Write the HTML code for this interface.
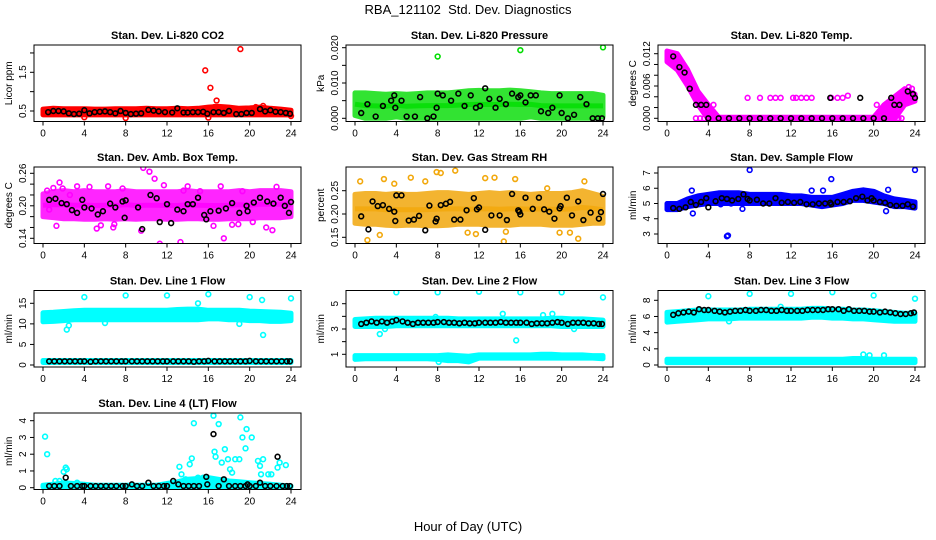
<!DOCTYPE html>
<html><head><meta charset="utf-8">
<style>
html,body{margin:0;padding:0;background:#fff;}
svg{display:block;font-family:"Liberation Sans",Arial,sans-serif;}
</style></head>
<body>
<svg id="chart" width="936" height="540" viewBox="0 0 936 540" xmlns="http://www.w3.org/2000/svg">
<text x="468" y="14" text-anchor="middle" font-size="13">RBA_121102&#160; Std. Dev. Diagnostics</text>
<text x="468" y="531" text-anchor="middle" font-size="13">Hour of Day (UTC)</text>
</svg>
<script>
// shared categories
const bandHours = [0,1,2,3,4,5,6,7,8,9,10,11,12,13,14,15,16,17,18,19,20,21,22,23,24];
const xTicks = [0,4,8,12,16,20,24];

// P1 CO2
const co2Lo = [0.4,0.4,0.4,0.4,0.4,0.4,0.4,0.4,0.4,0.4,0.4,0.4,0.4,0.4,0.4,0.4,0.4,0.4,0.4,0.4,0.4,0.4,0.4,0.4,0.4];
const co2Hi = [0.55,0.57,0.56,0.56,0.56,0.55,0.55,0.56,0.56,0.56,0.57,0.56,0.56,0.57,0.56,0.57,0.6,0.62,0.6,0.57,0.58,0.6,0.57,0.55,0.52];
const co2BlackH = [0.5,1,1.5,2,2.5,3,3.5,4,4.5,5,5.5,6,6.5,7,7.5,8,8.5,9,9.5,10.2,10.7,11.2,11.8,12.5,13,13.6,14,14.5,15,15.5,15.9,16.5,17,17.5,18,18.7,19.2,19.7,20.2,21,21.5,22,22.5,23,23.5,23.9];
const co2BlackV = [0.47,0.5,0.5,0.49,0.44,0.42,0.43,0.52,0.44,0.47,0.48,0.49,0.47,0.44,0.5,0.45,0.42,0.43,0.44,0.53,0.51,0.49,0.47,0.46,0.57,0.46,0.46,0.47,0.47,0.48,0.43,0.47,0.47,0.45,0.5,0.42,0.42,0.45,0.45,0.55,0.49,0.52,0.48,0.47,0.45,0.43];
const co2OutH = [15.7,16.2,16.8,19.1,21.3,20.6,4,8,16,24,16.6];
const co2OutV = [1.55,1.1,0.77,2.1,0.63,0.6,0.34,0.32,0.33,0.37,0.6];

// P2 Pressure
const presLo = [0.0008,0,0,0,0.0004,0,0,0,0,0,0,0,0,0,0,0,0,0.0004,0,0,0,0,0,0,0.0005];
const presHi = [0.0072,0.0072,0.007,0.0068,0.007,0.0068,0.007,0.0072,0.0072,0.0072,0.0075,0.0078,0.0079,0.0078,0.0078,0.008,0.0078,0.0075,0.0072,0.007,0.007,0.007,0.007,0.007,0.0065];
const presBlackH = [0.6,1.2,2,2.7,3.5,3.8,3.9,4.5,5,5.8,6.3,7,7.6,7.9,8,8.5,9.3,10,10.6,11.2,11.7,12.1,12.6,13,13.6,14,14.6,15.2,15.8,16,16.5,17,17.5,18,18.7,19.1,19.8,20,20.6,21.2,21.8,22.4,23,23.5,23.9];
const presBlackV = [0.0015,0.004,0.0005,0.0035,0.005,0.0065,0.003,0.005,0.0005,0.0005,0.006,0,0.0005,0.003,0.007,0.0065,0.005,0.007,0.0035,0.0065,0.003,0.0035,0.0085,0.0055,0.003,0.0055,0.004,0.007,0.006,0.0065,0.0045,0.0065,0.0065,0.002,0.0015,0.003,0.0065,0.0015,0,0.001,0.006,0.004,0,0,0];
const presOutH = [8,16,24];
const presOutV = [0.0175,0.0193,0.0201];

// P3 Li-820 Temp
const tempLo = [0.0105,0.009,0.006,0.0025,-0.0002,-0.0002,-0.0002,-0.0002,-0.0002,-0.0002,-0.0002,-0.0002,-0.0002,-0.0002,-0.0002,-0.0002,-0.0002,-0.0002,-0.0002,-0.0002,-0.0002,-0.0002,-0.0002,0.0025,0.0032];
const tempHi = [0.0125,0.012,0.009,0.005,0.0025,0.0002,0.0002,0.0002,0.0002,0.0002,0.0002,0.0002,0.0002,0.0002,0.0002,0.0002,0.0002,0.0002,0.0002,0.0002,0.0002,0.0025,0.004,0.0055,0.0045];
const tempBlackH = [0.6,1.2,1.7,2.2,2.8,3.3,3.8,4,5,6,7,8,9,10,11,12,13,14,15,15.8,16,17,18,18.7,19,20,21,21.7,22,22.5,23.3,23.8,24];
const tempBlackV = [0.0115,0.0095,0.0085,0.0055,0.0025,0.0025,0.0025,0,0,0,0,0,0,0,0,0,0,0,0,0.0038,0,0,0,0.0038,0,0,0,0.0038,0.0025,0.0025,0.005,0.0045,0.0038];
const tempOutH = [4.5,7.8,9,10,10.5,11,12.2,12.5,13,13.5,14,15.9,16.5,17,17.5,20.3,23.4,23.7,
  2.8,3.2,3.6,4.4,4.8,5.2,5.6,6.0,6.4,6.8,7.2,7.6,8.4,8.8,9.2,9.6,10.4,10.8,11.2,11.6,12.4,12.8,13.2,13.6,14.4,14.8,15.2,15.6,16.4,16.8,17.2,17.6,18.4,18.8,19.2,19.6,20.4,20.8,21.2,21.6,22.0,22.4,22.7];
const tempOutV = [0.0025,0.0038,0.0038,0.0038,0.0038,0.0038,0.0038,0.0038,0.0038,0.0038,0.0038,0.0038,0.0038,0.0038,0.0042,0.0025,0.0058,0.0055,
  0,0,0,0,0,0,0,0,0,0,0,0,0,0,0,0,0,0,0,0,0,0,0,0,0,0,0,0,0,0,0,0,0,0,0,0,0,0,0,0,0,0,0];

// P4 Amb box temp
const ambLo = [0.18,0.178,0.176,0.176,0.175,0.175,0.176,0.175,0.176,0.175,0.176,0.176,0.175,0.175,0.176,0.176,0.175,0.175,0.176,0.176,0.176,0.178,0.178,0.178,0.18];
const ambHi = [0.222,0.226,0.228,0.226,0.228,0.226,0.226,0.226,0.228,0.226,0.226,0.226,0.226,0.226,0.228,0.226,0.226,0.226,0.226,0.228,0.226,0.228,0.228,0.228,0.226];
const ambBlackH = [0.6,1.2,1.8,2.3,2.8,3.3,3.8,4,4.7,5.3,5.8,6.5,7,7.7,7.9,8,9.2,9.6,10.4,11,11.3,12,12.4,13,13.6,14,14.5,15,15.6,15.8,16.2,17,17.7,18.3,19,19.7,19.8,20.4,21,21.7,22.3,23,23.4,23.8,24];
const ambBlackV = [0.211,0.213,0.205,0.203,0.192,0.187,0.211,0.197,0.195,0.184,0.19,0.204,0.197,0.208,0.178,0.21,0.197,0.157,0.22,0.214,0.17,0.203,0.168,0.193,0.19,0.203,0.203,0.215,0.183,0.175,0.19,0.191,0.195,0.205,0.187,0.2,0.19,0.206,0.215,0.208,0.204,0.215,0.2,0.187,0.207];
const ambOutH = [0.4,1,1.6,1.9,2.6,3.3,4.5,5.2,6.3,6.8,7.7,9.7,10.3,10.8,11.3,11.7,13.3,13.6,14,16.5,17.5,18.3,19.3,20.3,21.6,22.2,22.6,0.6,1.3,5.6,6.9,9.5,15.2,17.2,18.9];
const ambOutV = [0.228,0.233,0.243,0.232,0.22,0.236,0.235,0.158,0.236,0.16,0.232,0.27,0.263,0.25,0.13,0.238,0.133,0.228,0.236,0.163,0.14,0.165,0.227,0.17,0.16,0.155,0.235,0.193,0.163,0.164,0.166,0.154,0.227,0.236,0.166];

// P5 Gas stream RH
const rhLo = [0.18,0.178,0.178,0.176,0.175,0.176,0.176,0.175,0.175,0.176,0.178,0.178,0.178,0.176,0.176,0.176,0.178,0.178,0.178,0.176,0.176,0.176,0.178,0.18,0.18];
const rhHi = [0.242,0.244,0.244,0.242,0.244,0.242,0.242,0.244,0.246,0.246,0.244,0.242,0.244,0.246,0.244,0.246,0.244,0.242,0.244,0.244,0.244,0.246,0.25,0.244,0.238];
const rhBlackH = [0.6,1.3,1.7,2.2,2.7,3.3,3.8,3.9,4,4.5,5.2,5.7,6.2,6.8,7.2,7.8,7.9,8.3,8.8,9.2,9.6,10.2,10.8,11.5,11.8,12,12.6,13.2,14,14.7,15.2,15.8,15.9,16,16.5,17.2,17.8,18.3,18.8,19.3,19.8,19.9,20.5,21,21.6,22.1,22.8,23.6,23.8,24];
const rhBlackV = [0.195,0.167,0.227,0.217,0.219,0.211,0.205,0.185,0.24,0.24,0.186,0.188,0.196,0.165,0.218,0.184,0.19,0.219,0.222,0.226,0.188,0.188,0.208,0.234,0.21,0.214,0.166,0.197,0.197,0.187,0.243,0.208,0.205,0.199,0.235,0.211,0.235,0.21,0.205,0.19,0.212,0.217,0.235,0.197,0.227,0.187,0.203,0.19,0.204,0.243];
const rhOutH = [0.5,1.2,2.4,2.8,3.8,5.4,6.8,7.9,8.3,9.7,11.7,12.6,13.5,14.4,14.6,15.5,19.8,20.8,21.6,22.2,10.9,18.6];
const rhOutV = [0.27,0.144,0.155,0.275,0.265,0.278,0.27,0.29,0.288,0.293,0.157,0.277,0.278,0.141,0.162,0.275,0.16,0.16,0.147,0.27,0.16,0.255];

// P6 Sample flow
const sfLo = [4.6,4.6,4.8,4.9,5.0,5.0,5.0,5.0,5.0,5.0,5.0,5.0,5.0,5.0,4.9,4.8,4.9,5.0,5.2,5.2,5.1,5.0,4.8,4.8,4.7];
const sfHi = [5.0,5.0,5.3,5.5,5.6,5.7,5.7,5.7,5.6,5.6,5.6,5.6,5.5,5.5,5.4,5.4,5.4,5.6,5.8,5.9,5.8,5.5,5.3,5.2,5.1];
const sfBlackH = [0.6,1.2,1.8,2.3,2.8,3.3,3.8,4,4.7,5.3,5.8,6.3,6.9,7.4,7.8,8,8.7,9.3,9.9,10.5,11.1,11.7,12.3,12.9,13.5,14.1,14.7,15.3,15.8,15.9,16.5,17.1,17.7,18.3,18.9,19.4,19.8,20,20.6,21.1,21.6,22.2,22.8,23.3,23.8];
const sfBlackV = [4.7,4.65,4.75,5.1,4.9,5.1,5.35,4.75,5.15,5.35,5.3,5.2,5.3,5.6,5.3,5.2,5.25,5.0,5.0,5.35,5.05,5.1,5.05,5.1,4.95,4.95,5.0,5.0,5.05,4.95,5.1,5.1,5.15,5.35,5.45,5.2,5.35,5.2,5.1,5.05,4.9,4.85,4.85,4.95,4.8];
const sfOutH = [2.4,2.5,5.8,5.9,8,15.9,24,5.2,6.2,7.3,15.1,21.2,21.4,14];
const sfOutV = [5.85,4.35,2.85,2.9,7.2,6.6,7.2,4.95,5.0,4.65,5.85,4.5,5.9,5.85];

// P7 Line 1 flow
const l1Lo = [10.5,10.6,10.8,11,11,11,11,11,11,11,11,11,11,11,11,11,11.2,11.2,11,11,10.8,10.8,10.6,10.6,10.8];
const l1Hi = [12.7,12.8,13,13.2,13.3,13.3,13.3,13.3,13.3,13.3,13.3,13.3,13.3,13.5,13.6,13.6,13.3,13.3,13.3,13.3,13.1,13,12.9,12.8,12.6];
const l1Lo2 = [0.6,0.6,0.6,0.6,0.6,0.6,0.6,0.6,0.6,0.6,0.6,0.6,0.6,0.6,0.6,0.6,0.6,0.6,0.6,0.6,0.6,0.6,0.6,0.6,0.6];
const l1Hi2 = [1.1,1.1,1.1,1.1,1.1,1.1,1.1,1.1,1.1,1.1,1.1,1.1,1.1,1.1,1.1,1.1,1.1,1.1,1.1,1.1,1.1,1.1,1.1,1.1,1.1];
const l1BlackH = [0.6,1.1,1.6,2.1,2.6,3.1,3.6,4,4.6,5.1,5.6,6.1,6.6,7.1,7.6,8,8.6,9.1,9.6,10.1,10.6,11.1,11.6,12,12.6,13.1,13.6,14.1,14.6,15.1,15.6,16,16.6,17.1,17.6,18.1,18.6,19.1,19.6,20,20.6,21.1,21.6,22.1,22.6,23.1,23.6,23.9];
const l1BlackV = [0.9,0.9,0.9,0.9,0.9,0.9,0.9,0.9,0.8,0.9,0.9,0.9,0.9,0.9,0.9,0.9,0.9,0.9,0.9,0.9,0.9,0.9,0.9,0.9,0.9,0.9,0.9,0.9,0.8,0.9,0.9,1.0,0.9,0.9,0.9,0.9,0.9,0.9,0.9,1.0,0.9,0.9,0.9,0.9,0.9,0.9,0.9,0.9];
const l1OutH = [4,8,12,16,20,21.2,24,2.3,2.5,6,15,21.3,19];
const l1OutV = [16.5,16.9,16.9,17.2,16.5,15.8,16.2,8.6,9.6,10.2,15,7.3,10];

// P8 Line 2 flow
const l2Lo = [3.2,3.2,3.2,3.2,3.25,3.25,3.25,3.25,3.25,3.25,3.25,3.25,3.25,3.25,3.25,3.25,3.25,3.25,3.25,3.25,3.2,3.2,3.2,3.2,3.2];
const l2Hi = [3.75,3.8,3.85,3.85,3.85,3.85,3.85,3.85,3.85,3.85,3.8,3.8,3.8,3.8,3.8,3.8,3.8,3.8,3.8,3.85,3.85,3.8,3.8,3.75,3.7];
const l2Lo2 = [0.6,0.65,0.65,0.65,0.65,0.65,0.65,0.65,0.6,0.5,0.5,0.4,0.7,0.7,0.7,0.7,0.7,0.7,0.7,0.7,0.7,0.7,0.7,0.7,0.65];
const l2Hi2 = [0.9,0.9,0.9,0.9,0.9,0.9,0.9,0.9,0.9,0.95,0.9,0.85,0.95,0.95,0.95,0.95,0.95,0.95,1.0,1.0,0.95,0.95,0.95,0.9,0.9];
const l2BlackH = [0.6,1.1,1.6,2.1,2.6,3.1,3.6,4,4.6,5.1,5.6,6.1,6.6,7.1,7.6,8,8.6,9.1,9.6,10.1,10.6,11.1,11.6,12,12.6,13.1,13.6,14.1,14.6,15.1,15.6,16,16.6,17.1,17.6,18.1,18.6,19.1,19.6,20,20.6,21.1,21.6,22.1,22.6,23.1,23.6,23.9];
const l2BlackV = [3.4,3.5,3.6,3.5,3.6,3.5,3.6,3.7,3.6,3.5,3.4,3.5,3.5,3.5,3.5,3.55,3.55,3.5,3.5,3.45,3.5,3.45,3.45,3.5,3.5,3.5,3.5,3.55,3.5,3.5,3.5,3.5,3.5,3.4,3.45,3.45,3.45,3.5,3.55,3.5,3.4,3.5,3.5,3.5,3.45,3.45,3.4,3.4];
const l2OutH = [4,8,12,16,20,24,2.4,2.9,15.6,14.3,18.2,19.1,21.2,7.8,8.1];
const l2OutV = [5.9,5.9,5.95,5.9,5.9,5.5,2.6,3.0,2.1,4.2,4.1,4.2,3.0,3.95,0.4];

// P9 Line 3 flow
const l3Lo = [5.3,5.4,5.5,5.6,5.7,5.7,5.7,5.8,5.8,5.8,5.8,5.8,5.8,5.8,5.9,5.9,5.8,5.8,5.7,5.7,5.6,5.5,5.4,5.4,5.4];
const l3Hi = [6.5,6.6,6.7,6.8,6.8,6.8,6.8,6.8,6.9,6.9,6.9,6.9,6.9,6.9,7.0,7.0,6.9,6.9,6.8,6.8,6.7,6.6,6.5,6.4,6.4];
const l3Lo2 = [0.3,0.3,0.3,0.3,0.3,0.3,0.3,0.3,0.3,0.3,0.3,0.3,0.3,0.3,0.3,0.3,0.3,0.3,0.3,0.3,0.3,0.3,0.3,0.3,0.3];
const l3Hi2 = [0.7,0.7,0.7,0.7,0.7,0.7,0.7,0.7,0.7,0.7,0.7,0.7,0.7,0.7,0.7,0.7,0.7,0.7,0.8,0.8,0.7,0.7,0.7,0.7,0.7];
const l3BlackH = [0.6,1.1,1.6,2.1,2.6,3.1,3.6,4,4.6,5.1,5.6,6.1,6.6,7.1,7.6,8,8.6,9.1,9.6,10.1,10.6,11.1,11.6,12,12.6,13.1,13.6,14.1,14.6,15.1,15.6,16,16.6,17.1,17.6,18.1,18.6,19.1,19.6,20,20.6,21.1,21.6,22.1,22.6,23.1,23.6,23.9];
const l3BlackV = [6.2,6.4,6.5,6.6,6.5,6.9,6.8,6.8,6.7,6.6,6.5,6.6,6.7,6.7,6.8,6.7,6.7,6.8,6.8,6.7,6.7,6.8,6.7,6.7,6.7,6.7,6.8,6.8,6.8,6.8,6.9,6.9,6.9,6.7,6.9,6.7,6.7,6.7,6.6,6.6,6.5,6.6,6.5,6.4,6.3,6.3,6.4,6.5];
const l3OutH = [4,8,12,16,20,24,6,19,19.6,21,11];
const l3OutV = [8.5,8.8,8.8,9.0,8.6,8.2,5.4,1.3,1.2,1.2,7.2];

// P10 Line 4 (LT) flow
const l4Lo = [0.05,0.05,0.05,0.05,0.05,0.05,0.05,0.05,0.05,0.05,0.05,0.05,0.05,0.05,0.05,0.05,0.05,0.05,0.05,0.05,0.05,0.05,0.05,0.05,0.05];
const l4Hi = [0.15,0.2,0.3,0.25,0.2,0.15,0.15,0.15,0.15,0.15,0.15,0.15,0.25,0.35,0.5,0.55,0.6,0.5,0.4,0.35,0.3,0.25,0.2,0.15,0.1];
const l4BlackH = [0.6,1.1,1.6,2.2,2.7,3.3,3.8,4,4.6,5.1,5.6,6.1,6.6,7.1,7.7,8,8.6,9.1,9.6,10.2,10.7,11.2,11.7,12,12.6,13.1,13.6,14.1,14.6,15.1,15.8,15.9,16.5,17,17.5,18,18.6,19.1,19.6,19.8,20,20.6,21,21.5,22,22.6,22.7,23.2,23.6,23.9];
const l4BlackV = [0.1,0.1,0.1,0.6,0.1,0.1,0.1,0.1,0.1,0.1,0.1,0.1,0.1,0.1,0.1,0.1,0.2,0.1,0.1,0.3,0.1,0.1,0.1,0.1,0.4,0.2,0.1,0.1,0.1,0.1,0.65,0.2,3.2,0.1,0.5,0.1,0.1,0.1,0.1,0.2,0.1,0.1,0.3,0.1,0.1,0.1,1.85,0.1,0.1,0.1];
const l4OutH = [0.2,0.4,2,2.2,2.3,1.2,1.6,3.3,13.2,13.4,13.8,14.2,14.4,14.6,16.5,16.6,16.7,17,17.3,17.6,17.9,18.1,18.3,18.6,19,19.1,19.3,19.6,19.7,20.2,20.8,21,21.1,21.3,21.8,22.1,22.7,22.9,23.5,15,15.5];
const l4OutV = [3.05,2.0,0.95,1.2,1.1,0.4,0.4,0.3,1.25,0.8,0.5,1.4,1.75,3.85,4.3,2.15,1.85,3.8,1.5,2.3,1.7,1.1,0.9,1.7,1.7,4.2,3.0,2.35,3.5,3.0,1.6,1.3,0.8,1.7,0.8,0.8,1.2,1.5,1.35,0.6,0.6];

const panels = [
 {id:'li820-co2',title:'Stan. Dev. Li-820 CO2',ylab:'Licor ppm',col:0,row:0,v0:0.5,p0:111,v1:1.5,p1:72.3,ticks:[0.5,1,1.5,2],tickLabels:['0.5','','1.5',''],color:'#ff0000',op:1,bands:[[co2Lo,co2Hi]],bh:co2BlackH,bv:co2BlackV,oh:co2OutH,ov:co2OutV},
 {id:'li820-pressure',title:'Stan. Dev. Li-820 Pressure',ylab:'kPa',col:1,row:0,v0:0,p0:118.3,v1:0.02,p1:47.7,ticks:[0,0.005,0.01,0.015,0.02],tickLabels:['0.000','','0.010','','0.020'],color:'#00dd00',op:0.8,bands:[[presLo,presHi]],bh:presBlackH,bv:presBlackV,oh:presOutH,ov:presOutV},
 {id:'li820-temp',title:'Stan. Dev. Li-820 Temp.',ylab:'degrees C',col:2,row:0,v0:0,p0:118.3,v1:0.012,p1:53.7,ticks:[0,0.002,0.004,0.006,0.008,0.01,0.012],tickLabels:['0.000','','','0.006','','','0.012'],color:'#ff00ff',op:1,bands:[[tempLo,tempHi]],bh:tempBlackH,bv:tempBlackV,oh:tempOutH,ov:tempOutV},
 {id:'amb-box-temp',title:'Stan. Dev. Amb. Box Temp.',ylab:'degrees C',col:0,row:1,v0:0.14,p0:238.3,v1:0.26,p1:173.3,ticks:[0.14,0.16,0.18,0.2,0.22,0.24,0.26],tickLabels:['0.14','','','0.20','','','0.26'],color:'#ff00ff',op:0.85,bands:[[ambLo,ambHi]],bh:ambBlackH,bv:ambBlackV,oh:ambOutH,ov:ambOutV},
 {id:'gas-stream-rh',title:'Stan. Dev. Gas Stream RH',ylab:'percent',col:1,row:1,v0:0.15,p0:237.3,v1:0.25,p1:190.7,ticks:[0.15,0.2,0.25],tickLabels:['0.15','0.20','0.25'],color:'#f2a80c',op:0.85,bands:[[rhLo,rhHi]],bh:rhBlackH,bv:rhBlackV,oh:rhOutH,ov:rhOutV},
 {id:'sample-flow',title:'Stan. Dev. Sample Flow',ylab:'ml/min',col:2,row:1,v0:3,p0:234,v1:7,p1:173,ticks:[3,4,5,6,7],tickLabels:['3','4','5','6','7'],color:'#0000ff',op:1,bands:[[sfLo,sfHi]],bh:sfBlackH,bv:sfBlackV,oh:sfOutH,ov:sfOutV},
 {id:'line1-flow',title:'Stan. Dev. Line 1 Flow',ylab:'ml/min',col:0,row:2,v0:0,p0:365,v1:15,p1:303.3,ticks:[0,5,10,15],tickLabels:['0','5','10','15'],color:'#00ffff',op:1,bands:[[l1Lo,l1Hi],[l1Lo2,l1Hi2]],bh:l1BlackH,bv:l1BlackV,oh:l1OutH,ov:l1OutV},
 {id:'line2-flow',title:'Stan. Dev. Line 2 Flow',ylab:'ml/min',col:1,row:2,v0:1,p0:354.3,v1:5,p1:303.7,ticks:[1,2,3,4,5],tickLabels:['1','','3','','5'],color:'#00ffff',op:1,bands:[[l2Lo,l2Hi],[l2Lo2,l2Hi2]],bh:l2BlackH,bv:l2BlackV,oh:l2OutH,ov:l2OutV},
 {id:'line3-flow',title:'Stan. Dev. Line 3 Flow',ylab:'ml/min',col:2,row:2,v0:0,p0:365,v1:8,p1:300.3,ticks:[0,2,4,6,8],tickLabels:['0','2','4','6','8'],color:'#00ffff',op:1,bands:[[l3Lo,l3Hi],[l3Lo2,l3Hi2]],bh:l3BlackH,bv:l3BlackV,oh:l3OutH,ov:l3OutV},
 {id:'line4-lt-flow',title:'Stan. Dev. Line 4 (LT) Flow',ylab:'ml/min',col:0,row:3,v0:0,p0:487.7,v1:4,p1:420.7,ticks:[0,1,2,3,4],tickLabels:['0','1','2','3','4'],color:'#00ffff',op:1,bands:[[l4Lo,l4Hi]],bh:l4BlackH,bv:l4BlackV,oh:l4OutH,ov:l4OutV}
];

const NS='http://www.w3.org/2000/svg';
const svg=document.getElementById('chart');
function mk(tag,attrs,parent){const e=document.createElementNS(NS,tag);for(const k in attrs)e.setAttribute(k,attrs[k]);parent.appendChild(e);return e;}
const colLeft=[34,346,658], rowTop=[45,167,290.5,413];
panels.forEach(p=>{
  const bx=colLeft[p.col], by=rowTop[p.row], bw=267, bh=76.5;
  const x0=bx+9, xs=248/24;
  const xScale=h=>x0+h*xs;
  const yScale=v=>p.p0+(v-p.v0)*(p.p1-p.p0)/(p.v1-p.v0);
  const g=mk('g',{},svg);
  
  
  const clipId='clip-'+p.id;
  const cp=mk('clipPath',{id:clipId},g); mk('rect',{x:bx,y:by,width:bw,height:bh},cp);
  const t=mk('text',{x:bx+bw/2,y:by-6,'text-anchor':'middle','font-size':'11','font-weight':'bold'},g);
  t.textContent=p.title;
  
  
  const yl=mk('text',{x:0,y:0,'text-anchor':'middle','font-size':'10',transform:`translate(${bx-22},${by+bh/2}) rotate(-90)`},g);
  yl.textContent=p.ylab;
  
  
  const plot=mk('g',{'clip-path':`url(#${clipId})`},g);
  
  
  p.bands.forEach((b,bi)=>{
    const lo=b[0], hi=b[1];
    let pts=bandHours.map((h,i)=>xScale(h).toFixed(1)+','+yScale(hi[i]).toFixed(1));
    for(let i=bandHours.length-1;i>=0;i--) pts.push(xScale(bandHours[i]).toFixed(1)+','+yScale(lo[i]).toFixed(1));
    const poly=mk('polygon',{points:pts.join(' '),fill:p.color,stroke:p.color,'stroke-width':5,'stroke-linejoin':'round',opacity:p.op},plot);
    
    
    const mid=bandHours.map((h,i)=>xScale(h).toFixed(1)+','+yScale((lo[i]+hi[i])/2).toFixed(1)).join(' ');
    const ml=mk('polyline',{points:mid,fill:'none',stroke:p.color,'stroke-width':5,'stroke-linejoin':'round',opacity:p.op},plot);
    
    
  });
  p.oh.forEach((h,i)=>{
    const c=mk('circle',{cx:xScale(h),cy:yScale(p.ov[i]),r:2.4,fill:'none',stroke:p.color,'stroke-width':1.6},plot);
    
    
  });
  p.bh.forEach((h,i)=>{
    const c=mk('circle',{cx:xScale(h),cy:yScale(p.bv[i]),r:2.4,fill:'none',stroke:'#000','stroke-width':1.6},plot);
    
    
  });
  const box=mk('rect',{x:bx,y:by,width:bw,height:bh,fill:'none',stroke:'#000','stroke-width':1},g);
  
  
  const xa=mk('g',{},g);
  
  
  xTicks.forEach(v=>{
    mk('line',{x1:xScale(v),x2:xScale(v),y1:by+bh,y2:by+bh+4,stroke:'#000'},xa);
    const tl=mk('text',{x:xScale(v),y:by+bh+15,'text-anchor':'middle','font-size':'10'},xa);
    tl.textContent=v;
  });
  const ya=mk('g',{},g);
  
  
  p.ticks.forEach((v,i)=>{
    const y=yScale(v);
    mk('line',{x1:bx-4,x2:bx,y1:y,y2:y,stroke:'#000'},ya);
    if(p.tickLabels[i]){
      const tl=mk('text',{x:0,y:0,'text-anchor':'middle','font-size':'10',transform:`translate(${bx-8},${y}) rotate(-90)`},ya);
      tl.textContent=p.tickLabels[i];
    }
  });
});
</script>
</body></html>
